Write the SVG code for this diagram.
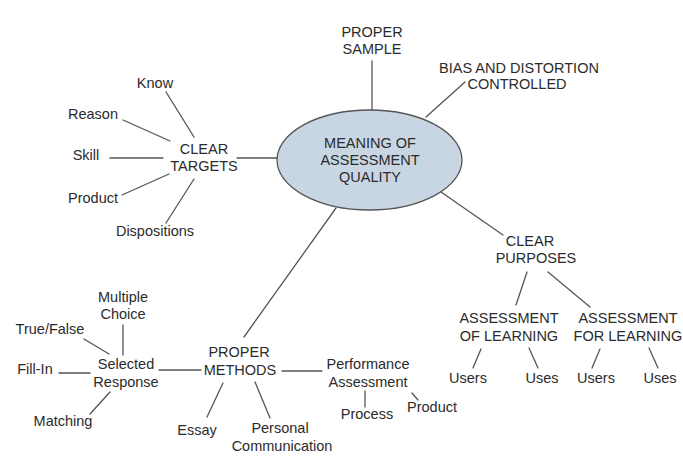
<svg xmlns="http://www.w3.org/2000/svg" width="683" height="457" viewBox="0 0 683 457">
<style>
text{font-family:"Liberation Sans",Arial,sans-serif;font-size:14.5px;fill:#2b2b2b;text-anchor:middle}
.c line{stroke:#555;stroke-width:1.3;stroke-linecap:round}
</style>
<rect width="683" height="457" fill="#fff"/>
<g class="c" id="connectors">
<line x1="372" y1="61" x2="372" y2="110"/>
<line x1="465" y1="82" x2="426" y2="117"/>
<line x1="237" y1="158" x2="278" y2="158"/>
<line x1="166" y1="92" x2="194" y2="137"/>
<line x1="123" y1="120" x2="170" y2="141"/>
<line x1="110" y1="158" x2="163" y2="158"/>
<line x1="122" y1="195" x2="169" y2="174"/>
<line x1="166" y1="223" x2="194" y2="179"/>
<line x1="441" y1="192" x2="503" y2="235"/>
<line x1="527" y1="272" x2="516" y2="305"/>
<line x1="548" y1="272" x2="590" y2="307"/>
<line x1="481" y1="349" x2="473" y2="368"/>
<line x1="529" y1="348" x2="538" y2="368"/>
<line x1="600" y1="349" x2="592" y2="368"/>
<line x1="649" y1="348" x2="658" y2="368"/>
<line x1="336" y1="208" x2="244" y2="337"/>
<line x1="159" y1="370" x2="201" y2="370"/>
<line x1="282" y1="371" x2="322" y2="371"/>
<line x1="223" y1="383" x2="207" y2="417"/>
<line x1="255" y1="382" x2="270" y2="418"/>
<line x1="365" y1="391" x2="365" y2="407"/>
<line x1="412" y1="393" x2="418" y2="400"/>
<line x1="123" y1="325" x2="123" y2="355"/>
<line x1="84" y1="339" x2="109" y2="354"/>
<line x1="59" y1="373" x2="90" y2="373"/>
<line x1="90" y1="414" x2="110" y2="392"/>
</g>
<g id="center">
<ellipse cx="369.5" cy="160" rx="92.5" ry="50" fill="#c8d6e3" stroke="#555" stroke-width="1.3"/>
<text x="370" y="148">MEANING OF</text>
<text x="370" y="165">ASSESSMENT</text>
<text x="370" y="182">QUALITY</text>
</g>
<g id="proper-sample"><text x="372" y="37">PROPER</text><text x="372" y="54">SAMPLE</text></g>
<g id="bias"><text x="519" y="73">BIAS AND DISTORTION</text><text x="517" y="89">CONTROLLED</text></g>
<g id="clear-targets"><text x="204" y="154">CLEAR</text><text x="204" y="171">TARGETS</text></g>
<g id="know"><text x="155" y="88">Know</text></g>
<g id="reason"><text x="93" y="119">Reason</text></g>
<g id="skill"><text x="86" y="160">Skill</text></g>
<g id="product-t"><text x="93" y="203">Product</text></g>
<g id="dispositions"><text x="155" y="236">Dispositions</text></g>
<g id="clear-purposes"><text x="530" y="246">CLEAR</text><text x="536" y="263">PURPOSES</text></g>
<g id="aol"><text x="509" y="323">ASSESSMENT</text><text x="509" y="341">OF LEARNING</text></g>
<g id="afl"><text x="628" y="323">ASSESSMENT</text><text x="628" y="341">FOR LEARNING</text></g>
<g id="users1"><text x="468" y="383">Users</text></g>
<g id="uses1"><text x="542" y="383">Uses</text></g>
<g id="users2"><text x="596" y="383">Users</text></g>
<g id="uses2"><text x="660" y="383">Uses</text></g>
<g id="proper-methods"><text x="239" y="357">PROPER</text><text x="240" y="375">METHODS</text></g>
<g id="performance"><text x="368" y="369">Performance</text><text x="368" y="387">Assessment</text></g>
<g id="process"><text x="367" y="419">Process</text></g>
<g id="product-m"><text x="432" y="412">Product</text></g>
<g id="essay"><text x="197" y="435">Essay</text></g>
<g id="personal"><text x="280" y="433">Personal</text><text x="282" y="451">Communication</text></g>
<g id="selected"><text x="126" y="369">Selected</text><text x="126" y="387">Response</text></g>
<g id="multiple"><text x="123" y="302">Multiple</text><text x="123" y="319">Choice</text></g>
<g id="truefalse"><text x="50" y="334">True/False</text></g>
<g id="fillin"><text x="35" y="374">Fill-In</text></g>
<g id="matching"><text x="63" y="426">Matching</text></g>
</svg>
